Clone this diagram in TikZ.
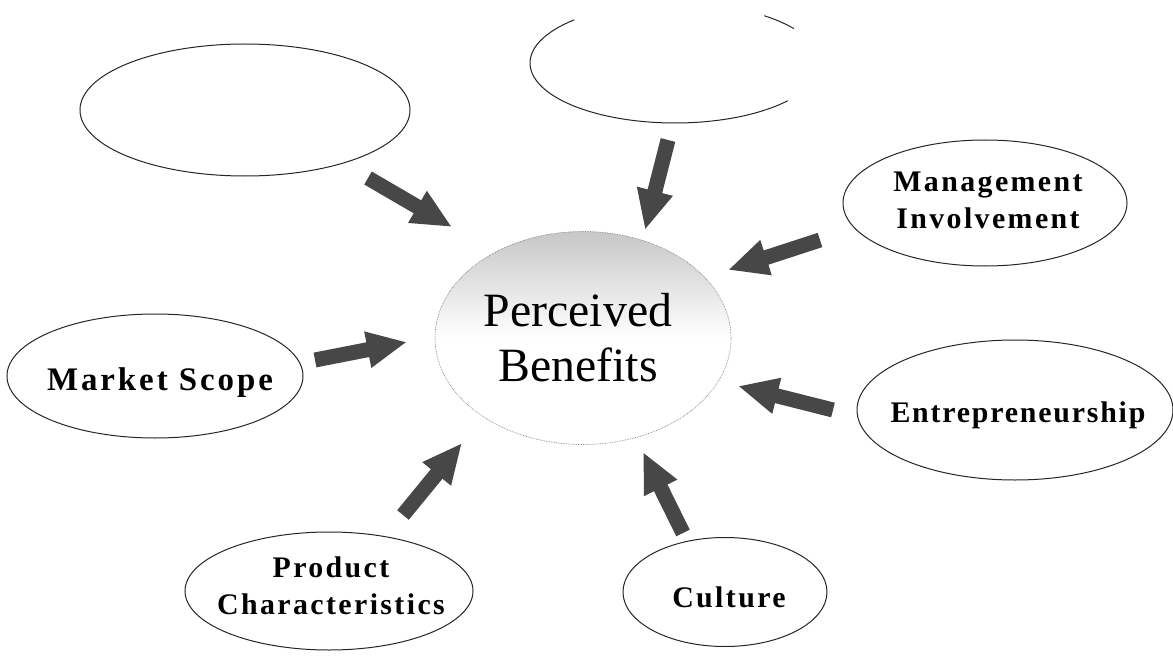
\documentclass[tikz,border=0pt]{standalone}
\usepackage{fontspec}
\setmainfont{Liberation Serif}
\newfontfamily\lfont[LetterSpace=8]{Liberation Serif}
\newfontfamily\mfont[LetterSpace=9]{Liberation Serif}
\newfontfamily\efont[LetterSpace=6]{Liberation Serif}
\usetikzlibrary{shapes.geometric,arrows.meta}
\begin{document}
\begin{tikzpicture}[x=1bp,y=-1bp,
  oval/.style={ellipse, draw=black!85, line width=1bp, inner sep=0pt},
  blk/.style={line width=15bp, draw=black!72, -{Triangle[width=34bp,length=40bp]}},
  lbl/.style={inner sep=0pt, font=\lfont\bfseries\fontsize{30}{37}\selectfont, align=center}
]
\useasboundingbox (0,0) rectangle (1173,656);
\fill[white] (0,0) rectangle (1173,656);

% central node
\node[ellipse, inner sep=0pt, minimum width=296bp, minimum height=213bp,
      top color=black!22, bottom color=white, middle color=white,
      draw=black!50, line width=0.7bp, densely dotted] (pb) at (583,338) {};
\node[inner sep=0pt, align=center, font=\rmfamily\fontsize{48}{55}\selectfont] (pbT) at (578,338) {Perceived\\Benefits};

% surrounding ellipses
\node[oval, minimum width=330bp, minimum height=132bp] (tl) at (245,110) {};
\node[ellipse, inner sep=0pt, minimum width=290bp, minimum height=120bp] (tc) at (675,63) {};
\draw[black!85, line width=1bp, shift={(tc.center)}] plot[domain=39:226, samples=60, smooth] ({145*cos(\x)},{60*sin(\x)});
\draw[black!85, line width=1bp, shift={(tc.center)}] plot[domain=308:325, samples=10, smooth] ({145*cos(\x)},{60*sin(\x)});

\node[oval, minimum width=284bp, minimum height=126bp] (mi) at (985,203) {};
\node[lbl] (miT) at (988,200) {Management\\Involvement};

\node[oval, minimum width=296bp, minimum height=124bp] (ms) at (155,376) {};
\node[inner sep=0pt, anchor=base, font=\mfont\bfseries\fontsize{33}{40}\selectfont] (msT) at (160,390) {Market Scope};

\node[oval, minimum width=316bp, minimum height=140bp] (en) at (1015,410) {};
\node[inner sep=0pt, anchor=base, font=\efont\bfseries\fontsize{30}{37}\selectfont] (enT) at (1018,422) {Entrepreneurship};

\node[oval, minimum width=288bp, minimum height=118bp] (pc) at (329,591) {};
\node[lbl] (pcT) at (331,586) {Product\\Characteristics};

\node[oval, minimum width=204bp, minimum height=109bp] (cu) at (725,592) {};
\node[lbl, anchor=base] (cuT) at (729,607) {Culture};

% arrows
\coordinate (a1s) at (368,178); \coordinate (a1e) at (452,227);
\coordinate (a2s) at (668,140); \coordinate (a2e) at (645,230);
\coordinate (a3s) at (820,240); \coordinate (a3e) at (728,270);
\coordinate (a4s) at (315,360); \coordinate (a4e) at (407,342);
\coordinate (a5s) at (833,410); \coordinate (a5e) at (738,386);
\coordinate (a6s) at (403,515); \coordinate (a6e) at (462,443);
\coordinate (a7s) at (683,533); \coordinate (a7e) at (643,452);
\draw[blk] (a1s) -- (a1e);
\draw[blk] (a2s) -- (a2e);
\draw[blk] (a3s) -- (a3e);
\draw[blk] (a4s) -- (a4e);
\draw[blk] (a5s) -- (a5e);
\draw[blk] (a6s) -- (a6e);
\draw[blk] (a7s) -- (a7e);
\end{tikzpicture}
\end{document}
